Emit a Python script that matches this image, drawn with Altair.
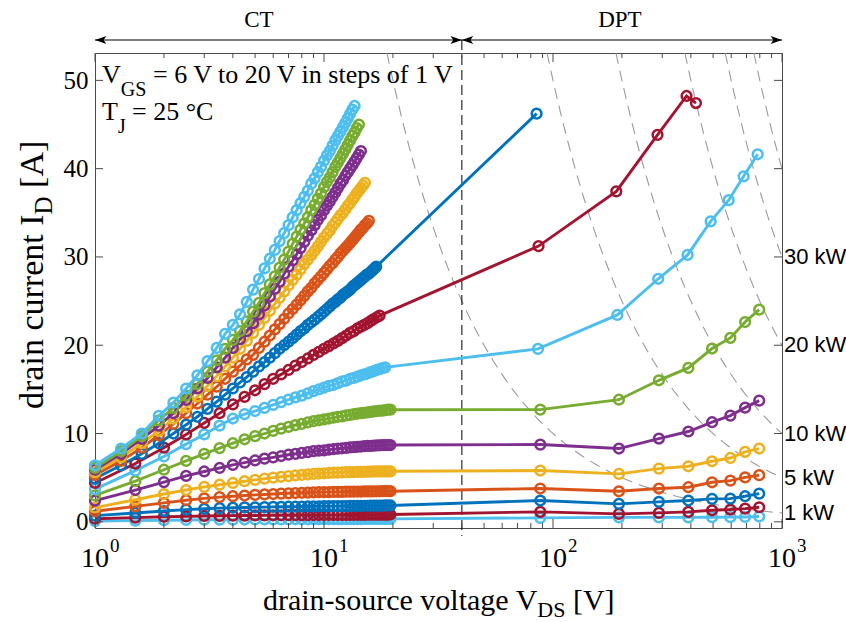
import altair as alt
import numpy as np
import pandas as pd

# ---------------- data ----------------
W, H = 687, 475
XMIN, XMAX = 1, 1000
YMIN, YMAX = -0.7, 53.1

VGS = list(range(6, 21))
COLORS = ["#4DBEEE", "#A2142F", "#0072BD", "#D95319", "#EDB120", "#7E2F8E", "#77AC30",
          "#4DBEEE", "#A2142F", "#0072BD", "#D95319", "#EDB120", "#7E2F8E", "#77AC30", "#4DBEEE"]

# CT (curve tracer) voltage grids: coarse sweep for VGS 6..14 V, finer sweep for VGS 15..20 V
V_CT_COARSE = [1.0, 1.5, 2.0, 2.5, 3.0, 3.5, 4.0, 4.5, 5.0, 5.5, 6.0, 6.5, 7.0, 7.5, 8.0, 8.5, 9.0, 9.5,
               10.0, 10.5, 11.0, 11.5, 12.0, 12.5, 13.0, 13.5, 14.0, 14.5, 15.0, 15.5, 16.0, 16.5,
               17.0, 17.5, 18.0, 18.5, 19.0, 19.5]
V_CT_FINE = [1.0, 1.3, 1.6, 1.9, 2.2, 2.5, 2.8, 3.1, 3.4, 3.7, 4.0, 4.3, 4.6, 4.9, 5.2, 5.5, 5.8, 6.1,
             6.4, 6.7, 7.0, 7.3, 7.6, 7.9, 8.2, 8.5, 8.8, 9.1, 9.4, 9.7, 10.0, 10.3, 10.6, 10.9, 11.2,
             11.5, 11.8, 12.1, 12.4, 12.7, 13.0, 13.3, 13.6, 13.9, 14.2, 14.5, 14.8, 15.1, 15.4, 15.7,
             16.0, 16.3, 16.6, 16.9]
CT_GRID = ["coarse"] * 9 + ["fine"] * 6

I_CT = [
    [0.08, 0.14, 0.18, 0.21, 0.23, 0.24, 0.25, 0.26, 0.27, 0.27, 0.28, 0.28, 0.28, 0.29, 0.29, 0.29, 0.29, 0.3, 0.3, 0.3, 0.3, 0.3, 0.31, 0.31, 0.31, 0.31, 0.31, 0.31, 0.32, 0.32, 0.32, 0.32, 0.32, 0.32, 0.32, 0.33, 0.33, 0.33],
    [0.35, 0.48, 0.57, 0.62, 0.66, 0.68, 0.7, 0.71, 0.72, 0.73, 0.74, 0.74, 0.75, 0.75, 0.76, 0.76, 0.77, 0.77, 0.77, 0.78, 0.78, 0.78, 0.79, 0.79, 0.79, 0.8, 0.8, 0.8, 0.8, 0.81, 0.81, 0.81, 0.81, 0.82, 0.82, 0.82, 0.82, 0.83],
    [0.7, 1.0, 1.22, 1.38, 1.48, 1.55, 1.6, 1.63, 1.65, 1.67, 1.69, 1.7, 1.71, 1.72, 1.73, 1.74, 1.75, 1.76, 1.77, 1.77, 1.78, 1.78, 1.79, 1.79, 1.8, 1.8, 1.81, 1.81, 1.82, 1.82, 1.83, 1.83, 1.84, 1.84, 1.84, 1.85, 1.85, 1.85],
    [1.2, 1.75, 2.15, 2.45, 2.65, 2.8, 2.9, 2.98, 3.05, 3.1, 3.15, 3.2, 3.23, 3.26, 3.29, 3.31, 3.33, 3.35, 3.36, 3.37, 3.38, 3.39, 3.4, 3.41, 3.42, 3.42, 3.43, 3.43, 3.44, 3.44, 3.45, 3.45, 3.46, 3.46, 3.47, 3.47, 3.47, 3.47],
    [1.6, 2.5, 3.15, 3.6, 3.95, 4.2, 4.4, 4.6, 4.75, 4.88, 5.0, 5.1, 5.18, 5.25, 5.32, 5.38, 5.43, 5.47, 5.5, 5.53, 5.56, 5.58, 5.6, 5.62, 5.63, 5.64, 5.65, 5.66, 5.67, 5.68, 5.69, 5.7, 5.7, 5.71, 5.71, 5.72, 5.72, 5.72],
    [2.4, 3.6, 4.5, 5.2, 5.7, 6.1, 6.45, 6.7, 6.95, 7.15, 7.3, 7.45, 7.6, 7.7, 7.8, 7.9, 8.0, 8.05, 8.1, 8.17, 8.23, 8.28, 8.33, 8.38, 8.42, 8.46, 8.5, 8.53, 8.56, 8.59, 8.61, 8.63, 8.65, 8.67, 8.68, 8.69, 8.7, 8.7],
    [3.0, 4.6, 5.9, 6.9, 7.7, 8.35, 8.9, 9.35, 9.7, 10.0, 10.3, 10.55, 10.75, 10.95, 11.1, 11.25, 11.4, 11.5, 11.6, 11.7, 11.8, 11.9, 11.95, 12.05, 12.1, 12.2, 12.25, 12.3, 12.35, 12.4, 12.45, 12.5, 12.55, 12.6, 12.6, 12.65, 12.7, 12.7],
    [3.7, 5.8, 7.4, 8.8, 9.9, 10.9, 11.7, 12.2, 12.55, 12.9, 13.25, 13.55, 13.85, 14.1, 14.3, 14.55, 14.8, 15.0, 15.2, 15.4, 15.5, 15.7, 15.9, 16.0, 16.2, 16.3, 16.45, 16.6, 16.7, 16.8, 16.95, 17.07, 17.2, 17.3, 17.4, 17.5],
    [4.4, 6.6, 8.4, 9.9, 11.2, 12.3, 13.3, 14.15, 14.9, 15.6, 16.2, 16.7, 17.2, 17.7, 18.1, 18.5, 18.9, 19.25, 19.6, 19.9, 20.2, 20.5, 20.8, 21.1, 21.4, 21.6, 21.9, 22.1, 22.3, 22.5, 22.75, 22.97, 23.17, 23.36],
    [4.9, 6.4, 7.7, 8.9, 10.0, 11.0, 11.9, 12.8, 13.6, 14.4, 15.1, 15.8, 16.4, 17.0, 17.6, 18.1, 18.6, 19.1, 19.6, 20.0, 20.4, 20.8, 21.2, 21.6, 21.9, 22.3, 22.6, 22.9, 23.2, 23.5, 23.8, 24.1, 24.4, 24.7, 24.9, 25.2, 25.4, 25.7, 25.9, 26.1, 26.3, 26.6, 26.8, 27.0, 27.2, 27.4, 27.6, 27.8, 28.0, 28.1, 28.3, 28.5, 28.7, 28.9],
    [5.3, 6.9, 8.4, 9.8, 11.1, 12.3, 13.4, 14.4, 15.3, 16.2, 17.0, 17.7, 18.4, 18.9, 19.7, 20.4, 21.1, 21.8, 22.4, 23.0, 23.6, 24.1, 24.6, 25.1, 25.6, 26.1, 26.5, 27.0, 27.4, 27.8, 28.2, 28.6, 29.0, 29.3, 29.7, 30.0, 30.4, 30.7, 31.0, 31.3, 31.6, 31.9, 32.2, 32.5, 32.8, 33.1, 33.3, 33.6, 33.8, 34.1],
    [5.6, 7.3, 8.9, 10.3, 11.7, 13.0, 14.2, 15.4, 16.5, 17.6, 18.6, 19.6, 20.5, 21.4, 22.3, 23.1, 23.9, 24.7, 25.4, 26.1, 26.8, 27.4, 28.0, 28.6, 29.2, 29.7, 30.2, 30.7, 31.2, 31.7, 32.2, 32.6, 33.0, 33.5, 33.9, 34.3, 34.7, 35.0, 35.4, 35.8, 36.1, 36.5, 36.8, 37.2, 37.5, 37.8, 38.1, 38.4],
    [5.9, 7.7, 9.4, 10.9, 12.3, 13.8, 15.1, 16.3, 17.5, 18.6, 19.7, 20.7, 21.6, 22.5, 23.5, 24.5, 25.5, 26.4, 27.2, 28.1, 28.9, 29.6, 30.3, 31.0, 31.7, 32.4, 33.0, 33.6, 34.2, 34.7, 35.3, 35.8, 36.3, 36.8, 37.3, 37.8, 38.3, 38.7, 39.2, 39.6, 40.0, 40.4, 40.8, 41.2, 41.6, 42.0],
    [6.1, 8.0, 9.7, 11.5, 12.9, 14.3, 15.6, 17.0, 18.3, 19.6, 20.6, 21.6, 22.7, 23.8, 24.8, 25.9, 26.9, 27.8, 28.8, 29.7, 30.6, 31.5, 32.3, 33.1, 33.8, 34.5, 35.3, 35.9, 36.6, 37.2, 37.9, 38.5, 39.0, 39.6, 40.2, 40.7, 41.2, 41.7, 42.2, 42.7, 43.2, 43.7, 44.1, 44.6, 45.0],
    [6.4, 8.3, 10.0, 12.0, 13.5, 15.1, 16.6, 18.2, 19.7, 21.3, 22.3, 23.5, 24.9, 26.3, 27.5, 28.7, 29.8, 30.8, 31.8, 32.7, 33.6, 34.5, 35.3, 36.1, 36.8, 37.5, 38.3, 38.9, 39.6, 40.2, 40.9, 41.5, 42.0, 42.6, 43.2, 43.7, 44.2, 44.7, 45.2, 45.7, 46.2, 46.7, 47.1],
]

# DPT (double pulse test) points
DPT_V = [
    [88, 194, 290, 390, 495, 595, 690, 795],
    [88, 194, 290, 390, 495, 595, 690, 795],
    [88, 194, 290, 390, 495, 595, 690, 795],
    [88, 194, 290, 390, 495, 595, 690, 795],
    [88, 194, 290, 390, 495, 595, 690, 795],
    [88, 194, 290, 390, 495, 595, 690, 795],
    [88, 194, 290, 390, 495, 595, 690, 795],
    [86, 191, 288, 387, 488, 585, 680, 783],
    [86.5, 189, 286, 383, 421],
    [84.8],
    [], [], [], [], [],
]
DPT_I = [
    [0.45, 0.5, 0.5, 0.5, 0.52, 0.53, 0.55, 0.6],
    [1.13, 0.9, 1.01, 1.13, 1.31, 1.39, 1.5, 1.65],
    [2.41, 2.03, 2.26, 2.41, 2.6, 2.63, 2.9, 3.2],
    [3.77, 3.46, 3.77, 3.92, 4.48, 4.67, 5.03, 5.28],
    [5.81, 5.43, 6.03, 6.29, 6.86, 7.23, 7.93, 8.3],
    [8.75, 8.3, 9.43, 10.23, 11.28, 12.03, 12.93, 13.73],
    [12.71, 13.83, 16.03, 17.43, 19.63, 20.83, 22.63, 24.03],
    [19.58, 23.43, 27.53, 30.23, 34.03, 36.43, 39.13, 41.63],
    [31.23, 37.43, 43.83, 48.23, 47.43],
    [46.23],
    [], [], [], [], [],
]

POWER_KW = [1, 5, 10, 20, 30, 40]
POWER_LABEL_KW = [1, 5, 10, 20, 30]
V_SPLIT = 40
SECTION_LABELS = ["CT", "DPT"]
SECTION_LABEL_V = [5.2, 196]
Y_TICKS = [0, 10, 20, 30, 40, 50]
X_MAJOR = [1, 10, 100, 1000]
X_EXP = ["0", "1", "2", "3"]
X_MINOR = [2, 3, 4, 5, 6, 7, 8, 9, 20, 30, 40, 50, 60, 70, 80, 90, 200, 300, 400, 500, 600, 700, 800, 900]

SERIF = "Liberation Serif"
SANS = "Liberation Sans"
FRAME = "#4a4a4a"

# ---------------- build ----------------
xs = alt.Scale(type="log", domain=[XMIN, XMAX], nice=False)
ys = alt.Scale(domain=[YMIN, YMAX], nice=False, zero=False)
yaxis = alt.Axis(values=Y_TICKS, ticks=False, domain=False, grid=False, labelFont=SERIF,
                 labelFontSize=25, labelColor="#000000", labelPadding=7, labelFlush=False)

def X(f="V"):
    return alt.X(f"{f}:Q", scale=xs, axis=None)

def Y(f="I"):
    return alt.Y(f"{f}:Q", scale=ys, axis=yaxis, title=None)

one = pd.DataFrame({"a": [0]})
layers = []

# constant-power hyperbolas
pc_rows = []
for p in POWER_KW:
    for v in np.geomspace(p * 1000 / YMAX, XMAX, 90):
        pc_rows.append({"P": p, "V": float(v), "I": p * 1000 / float(v)})
pc = pd.DataFrame(pc_rows)
layers.append(alt.Chart(pc).mark_line(color="#9a9a9a", strokeWidth=1.1, strokeDash=[11, 7], clip=True)
              .encode(x=X(), y=Y(), detail="P:N", order="V:Q"))

# CT / DPT split line
layers.append(alt.Chart(pd.DataFrame({"V": [V_SPLIT]})).mark_rule(color="#000000", strokeWidth=1, strokeDash=[10, 5])
              .encode(x=X(), y=alt.value(-13), y2=alt.value(H + 8)))

# series
for k in range(len(VGS)):
    grid = V_CT_COARSE if CT_GRID[k] == "coarse" else V_CT_FINE
    rows = [{"V": v, "I": i} for v, i in zip(grid, I_CT[k])]
    rows += [{"V": v, "I": i} for v, i in zip(DPT_V[k], DPT_I[k])]
    d = pd.DataFrame(rows)
    base = alt.Chart(d).encode(x=X(), y=Y())
    layers.append(base.mark_line(color=COLORS[k], strokeWidth=2.9).encode(order="V:Q"))
    layers.append(base.mark_point(color=COLORS[k], shape="circle", filled=False, size=95,
                                  strokeWidth=2.5, opacity=1))

# inward ticks
tk = pd.DataFrame({"t": Y_TICKS})
layers.append(alt.Chart(tk).mark_rule(color=FRAME, strokeWidth=1)
              .encode(y=alt.Y("t:Q", scale=ys, axis=yaxis, title=None), x=alt.value(0), x2=alt.value(8)))
layers.append(alt.Chart(tk).mark_rule(color=FRAME, strokeWidth=1)
              .encode(y=alt.Y("t:Q", scale=ys, axis=yaxis, title=None), x=alt.value(W - 8), x2=alt.value(W)))
xmaj = pd.DataFrame({"V": X_MAJOR, "e": X_EXP})
xmin = pd.DataFrame({"V": X_MINOR})
for y0, y1, dd in [(H, H - 9, xmaj), (0, 9, xmaj), (H, H - 5, xmin), (0, 5, xmin)]:
    layers.append(alt.Chart(dd).mark_rule(color=FRAME, strokeWidth=1)
                  .encode(x=X(), y=alt.value(y0), y2=alt.value(y1)))

# x tick labels 10^n
layers.append(alt.Chart(xmaj).mark_text(font=SERIF, fontSize=28, align="right", baseline="alphabetic", dx=14, color="#000")
              .encode(x=X(), y=alt.value(H + 39), text=alt.value("10")))
layers.append(alt.Chart(xmaj).mark_text(font=SERIF, fontSize=19, align="left", baseline="alphabetic", dx=15, color="#000")
              .encode(x=X(), y=alt.value(H + 24), text="e:N"))

# power labels at right
pl = pd.DataFrame({"I": POWER_LABEL_KW, "lab": [f"{p} kW" for p in POWER_LABEL_KW]})
layers.append(alt.Chart(pl).mark_text(font=SANS, fontSize=22, align="left", baseline="middle", color="#000")
              .encode(x=alt.value(W + 2), y=Y(), text="lab:N"))

# CT / DPT arrows
arr = pd.DataFrame({"V1": [XMIN, V_SPLIT], "V2": [V_SPLIT, XMAX]})
layers.append(alt.Chart(arr).mark_rule(color="#000", strokeWidth=1.2)
              .encode(x=alt.X("V1:Q", scale=xs, axis=None), x2="V2:Q", y=alt.value(-13)))
RIGHT_HEAD = "M0,0L-1,-0.36L-0.75,0L-1,0.36Z"
LEFT_HEAD = "M0,0L1,-0.36L0.75,0L1,0.36Z"
layers.append(alt.Chart(pd.DataFrame({"V": [V_SPLIT, XMAX]})).mark_point(shape=RIGHT_HEAD, filled=True, color="#000", size=520, opacity=1)
              .encode(x=X(), y=alt.value(-13)))
layers.append(alt.Chart(pd.DataFrame({"V": [XMIN, V_SPLIT]})).mark_point(shape=LEFT_HEAD, filled=True, color="#000", size=520, opacity=1)
              .encode(x=X(), y=alt.value(-13)))
sec = pd.DataFrame({"V": SECTION_LABEL_V, "lab": SECTION_LABELS})
layers.append(alt.Chart(sec).mark_text(font=SERIF, fontSize=23, align="center", baseline="alphabetic", color="#000")
              .encode(x=X(), y=alt.value(-26), text="lab:N"))

def txt(s, x, y, size, align="left", angle=None, font=SERIF):
    kw = dict(font=font, fontSize=size, align=align, baseline="alphabetic", color="#000")
    if angle is not None:
        kw["angle"] = angle
    return alt.Chart(one).mark_text(**kw).encode(x=alt.value(x), y=alt.value(y), text=alt.value(s))

# annotation (V_GS and T_J with subscripts)
layers += [
    txt("V", 7, 30, 26), txt("GS", 25.8, 43, 20), txt("= 6 V to 20 V in steps of 1 V", 58, 30, 26),
    txt("T", 7, 67, 26), txt("J", 22.9, 80, 20), txt("= 25 °C", 37, 67, 26),
]

# x title
xa = 442.3
layers += [
    txt("drain-source voltage V", xa, 557, 30, align="right"),
    txt("DS", xa, 564, 22),
    txt("[V]", xa + 28.1 + 7.5, 557, 30),
]
# y title (rotated)
ya = 161.5
layers += [
    txt("drain current I", -52, ya, 34, align="right", angle=270),
    txt("D", -43, ya, 25, angle=270),
    txt("[A]", -52, ya - 18.1 - 8.5, 34, angle=270),
]

chart = (alt.layer(*layers)
         .properties(width=W, height=H, padding={"left": 95, "top": 53, "right": 64, "bottom": 94},
                     autosize=alt.AutoSizeParams(type="none"), background="white")
         .configure_view(stroke=FRAME, strokeWidth=1))

chart.save("out.html", embed_options={"renderer": "svg", "actions": False})
